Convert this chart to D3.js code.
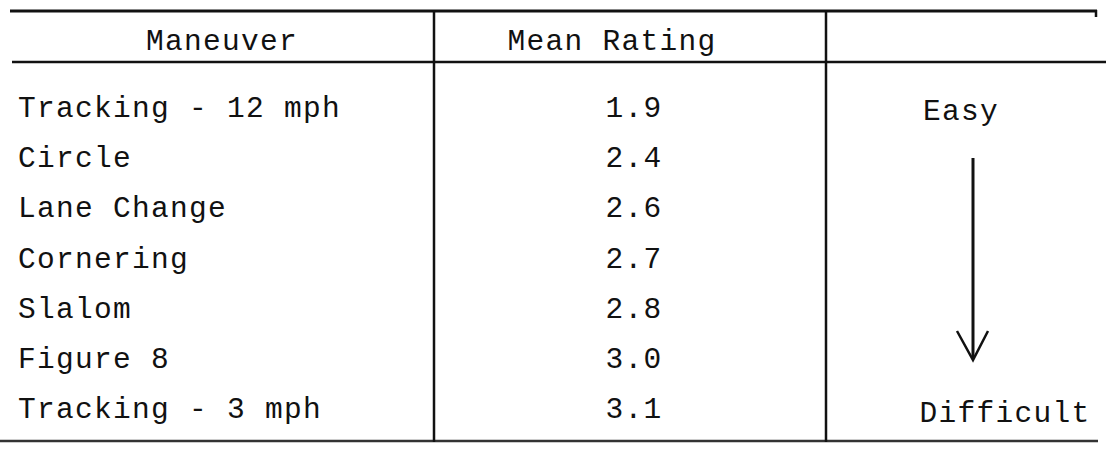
<!DOCTYPE html>
<html lang="en">
<head>
    <meta charset="UTF-8">
    <title>Maneuver ratings</title>
    <script src="https://cdn.jsdelivr.net/npm/d3@7"></script>
    <style>
        * { box-sizing: border-box; padding: 0; margin: 0; border: 0; }
        body { background: #fff; }
        svg { display: block; }
        text { font-family: "Liberation Mono", "DejaVu Sans Mono", monospace; font-size: 29.5px; letter-spacing: 1.3px; fill: #111; }
    </style>
</head>
<body>
    <svg width="1106" height="449"></svg>
    <script>
        // table content
        var headers = ["Maneuver", "Mean Rating", ""];
        var maneuvers = ["Tracking - 12 mph", "Circle", "Lane Change", "Cornering", "Slalom", "Figure 8", "Tracking - 3 mph"];
        var ratings = [1.9, 2.4, 2.6, 2.7, 2.8, 3.0, 3.1];
        var scaleEnds = ["Easy", "Difficult"];

        var svg = d3.select("svg");
        var ink = "#111";

        // column edges and row baselines
        var colX = [10, 434, 826, 1100];
        var yRow = d3.scalePoint()
            .domain(maneuvers)
            .range([117, 418]);
        var fmt = d3.format(".1f");

        // rules
        function rule(x1, y1, x2, y2, w, c) {
            svg.append("line")
                .attr("x1", x1).attr("y1", y1).attr("x2", x2).attr("y2", y2)
                .attr("stroke", c || ink).attr("stroke-width", w);
        }
        rule(10, 11, 1097, 11, 3);
        rule(1096, 10, 1096, 17, 2.5);
        rule(12, 62, 1106, 62, 2.5);
        rule(0, 441, 1098, 441, 2.5, "#333");
        rule(colX[1], 10, colX[1], 442, 2.5);
        rule(colX[2], 10, colX[2], 442, 2.5);

        // headers
        var headerX = [222, 612, 963];
        svg.selectAll("text.head")
            .data(headers)
            .enter()
            .append("text")
            .attr("class", "head")
            .attr("x", function (d, i) { return headerX[i]; })
            .attr("y", 50)
            .attr("text-anchor", "middle")
            .text(function (d) { return d; });

        // maneuver names
        svg.selectAll("text.name")
            .data(maneuvers)
            .enter()
            .append("text")
            .attr("class", "name")
            .attr("x", 18)
            .attr("y", function (d) { return yRow(d); })
            .text(function (d) { return d; });

        // mean ratings
        svg.selectAll("text.val")
            .data(ratings)
            .enter()
            .append("text")
            .attr("class", "val")
            .attr("x", 634)
            .attr("y", function (d, i) { return yRow(maneuvers[i]); })
            .attr("text-anchor", "middle")
            .text(function (d) { return fmt(d); });

        // easy -> difficult scale
        svg.append("text")
            .attr("x", 961)
            .attr("y", 120)
            .attr("text-anchor", "middle")
            .text(scaleEnds[0]);
        svg.append("text")
            .attr("x", 1005)
            .attr("y", 422)
            .attr("text-anchor", "middle")
            .text(scaleEnds[1]);

        rule(973, 158, 973, 358, 3);
        svg.append("path")
            .attr("d", "M957,331 L973,360 L988,331")
            .attr("fill", "none")
            .attr("stroke", ink)
            .attr("stroke-width", 2.5);
    </script>
</body>
</html>
